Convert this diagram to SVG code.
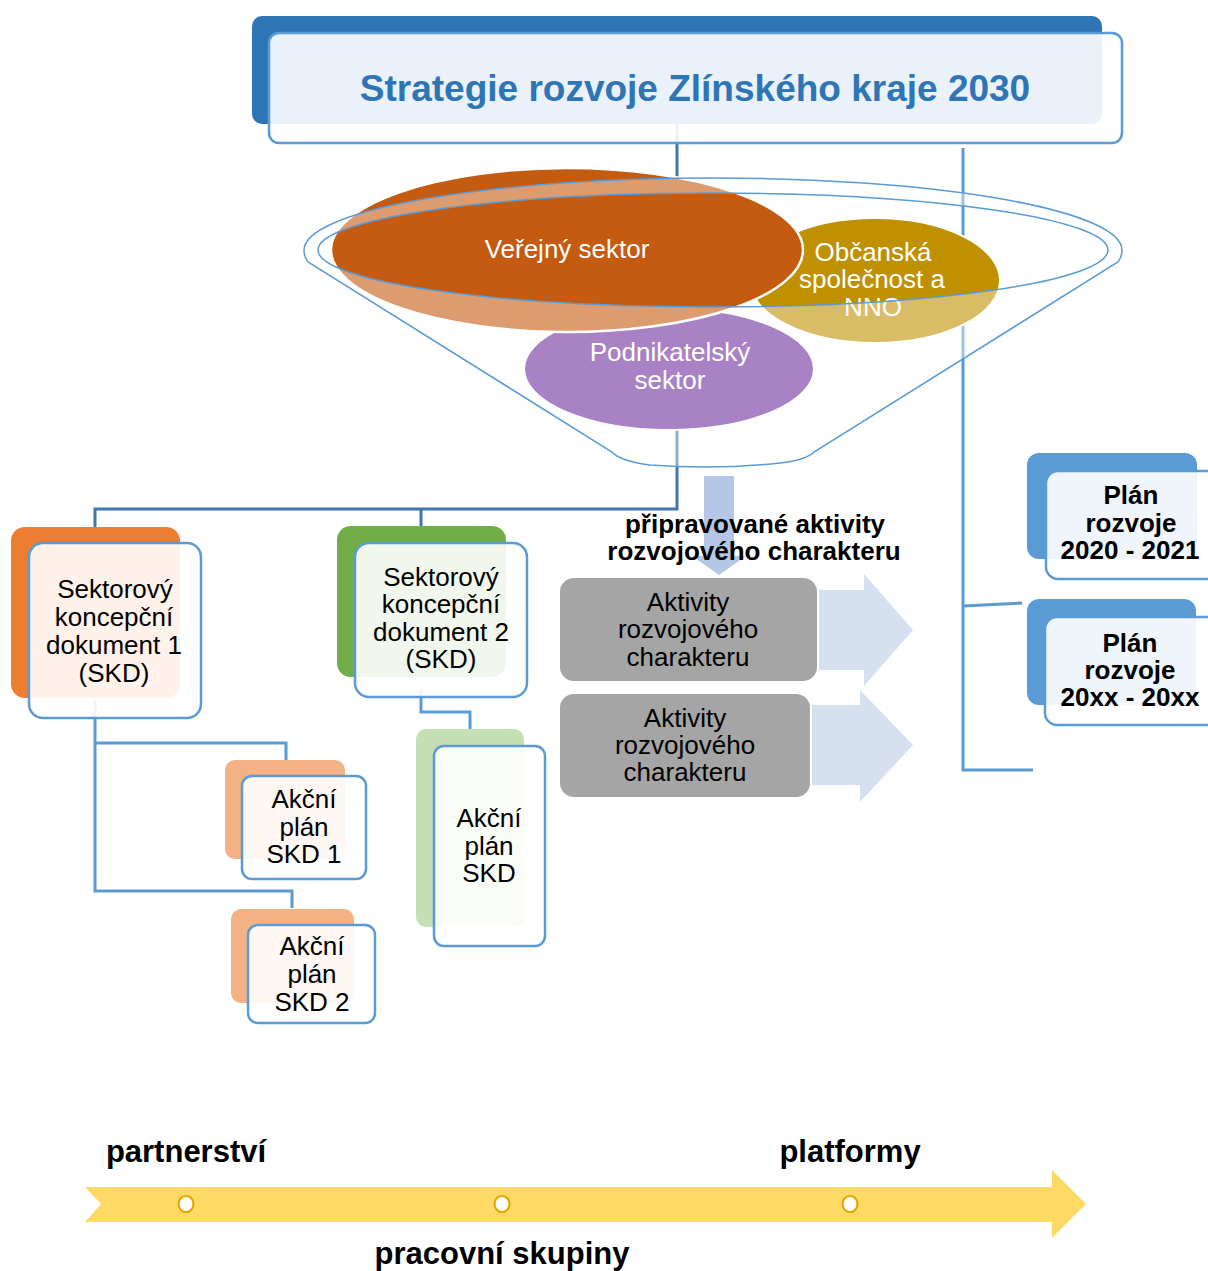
<svg xmlns="http://www.w3.org/2000/svg" width="1208" height="1271" viewBox="0 0 1208 1271">
<style>
text{font-family:"Liberation Sans",Arial,sans-serif;text-anchor:middle}
.t{font-size:26px;fill:#000}
.tb{font-size:26px;font-weight:bold;fill:#000}
.tw{font-size:26px;fill:#fff}
.front{fill:#fff;fill-opacity:0.9;stroke:#5B9BD5;stroke-width:2.5}
.trunk{fill:none;stroke:#3F77AE;stroke-width:3}
.sub{fill:none;stroke:#5B9BD5;stroke-width:3}
.gray{fill:#A5A5A5}
.rarr{fill:#D6E1F0}
.tl{font-size:31px;font-weight:bold;fill:#000}
.dot{fill:#fff;stroke:#E3A900;stroke-width:2.2}
</style>
<rect width="1208" height="1271" fill="#fff"/>

<g id="connectors">
  <path class="trunk" d="M677,124 V509 H95 V530 M421,509 V528"/>
  <path class="sub" d="M95,700 V891 H292 V908 M95,743 H286 V760"/>
  <path class="sub" d="M421,690 V712 H470 V730"/>
  <path class="sub" d="M963,148 V770 H1033 M963,606 L1022,603"/>
</g>

<g id="title">
  <rect x="252" y="16" width="850" height="108" rx="10" fill="#2E75B6"/>
  <rect class="front" x="269" y="33" width="853" height="110" rx="10"/>
  <text x="695" y="101" style="font-size:37px;font-weight:bold;fill:#2E75B6">Strategie rozvoje Zlínského kraje 2030</text>
</g>

<g id="sector-podnikatelsky">
  <ellipse cx="669" cy="369" rx="145" ry="61" fill="#7030A0" stroke="#fff" stroke-width="2"/>
  <text class="tw" x="670" y="361">Podnikatelský</text>
  <text class="tw" x="670" y="389">sektor</text>
</g>
<g id="sector-obcanska">
  <ellipse cx="875" cy="280.5" rx="125" ry="62.5" fill="#BF9000" stroke="#fff" stroke-width="2"/>
  <text class="tw" x="873" y="261">Občanská</text>
  <text class="tw" x="872" y="288">společnost a</text>
  <text class="tw" x="873" y="316">NNO</text>
</g>
<g id="sector-verejny">
  <ellipse cx="567" cy="250" rx="236" ry="82" fill="#C55A11" stroke="#fff" stroke-width="2.5"/>
  <text class="tw" x="567" y="258">Veřejný sektor</text>
</g>

<g id="funnel">
  <path fill="#fff" fill-opacity="0.4" fill-rule="evenodd" stroke="#5B9BD5" stroke-width="1.5"
    d="M304,250 A409,72 0 0 1 1122,250 Q1122,257 1118,262 L814,452 Q806,460 780,463 Q716,470 650,465 Q620,461 612,452 L308,262 Q304,257 304,250 Z
       M318,250 A395,57 0 1 0 1108,250 A395,57 0 1 0 318,250 Z"/>
</g>

<g id="skd1">
  <rect x="11" y="527" width="169" height="171" rx="14" fill="#ED7D31"/>
  <rect class="front" x="29" y="543" width="172" height="175" rx="14"/>
  <text class="t" x="115" y="598">Sektorový</text>
  <text class="t" x="114" y="626">koncepční</text>
  <text class="t" x="114" y="654">dokument 1</text>
  <text class="t" x="114" y="682">(SKD)</text>
</g>
<g id="skd2">
  <rect x="337" y="526" width="169" height="151" rx="14" fill="#70AD47"/>
  <rect class="front" x="355" y="543" width="172" height="154" rx="14"/>
  <text class="t" x="441" y="586">Sektorový</text>
  <text class="t" x="441" y="613">koncepční</text>
  <text class="t" x="441" y="641">dokument 2</text>
  <text class="t" x="441" y="668">(SKD)</text>
</g>
<g id="ap-skd1">
  <rect x="225" y="760" width="120" height="99" rx="10" fill="#F4B183"/>
  <rect class="front" x="242" y="776" width="124" height="103" rx="10"/>
  <text class="t" x="304" y="808">Akční</text>
  <text class="t" x="304" y="836">plán</text>
  <text class="t" x="304" y="863">SKD 1</text>
</g>
<g id="ap-skd2">
  <rect x="231" y="909" width="123" height="94" rx="10" fill="#F4B183"/>
  <rect class="front" x="248" y="925" width="127" height="98" rx="10"/>
  <text class="t" x="312" y="955">Akční</text>
  <text class="t" x="312" y="983">plán</text>
  <text class="t" x="312" y="1011">SKD 2</text>
</g>
<g id="ap-skd">
  <rect x="416" y="729" width="108" height="198" rx="10" fill="#C5E0B4"/>
  <rect class="front" x="434" y="746" width="111" height="200" rx="10"/>
  <text class="t" x="489" y="827">Akční</text>
  <text class="t" x="489" y="855">plán</text>
  <text class="t" x="489" y="882">SKD</text>
</g>

<g id="down-arrow">
  <path fill="#B4C7E7" d="M704,476 H734 V556 H746 L719,575 L692,556 H704 Z"/>
</g>
<g id="activities-label">
  <text class="tb" x="755" y="533">připravované aktivity</text>
  <text class="tb" x="754" y="560">rozvojového charakteru</text>
</g>

<g id="activity1">
  <path class="rarr" d="M819,590 H864 V574 L913,630 L864,686 V670 H819 Z"/>
  <rect class="gray" x="560" y="578" width="257" height="103" rx="14"/>
  <text class="t" x="688" y="611">Aktivity</text>
  <text class="t" x="688" y="638">rozvojového</text>
  <text class="t" x="688" y="666">charakteru</text>
</g>
<g id="activity2">
  <path class="rarr" d="M812,705 H860 V690 L913,745 L860,802 V785 H812 Z"/>
  <rect class="gray" x="560" y="694" width="250" height="103" rx="14"/>
  <text class="t" x="685" y="727">Aktivity</text>
  <text class="t" x="685" y="754">rozvojového</text>
  <text class="t" x="685" y="781">charakteru</text>
</g>

<g id="plan1">
  <rect x="1027" y="453" width="170" height="106" rx="12" fill="#5B9BD5"/>
  <rect class="front" x="1046" y="471" width="190" height="108" rx="12"/>
  <text class="tb" x="1131" y="504">Plán</text>
  <text class="tb" x="1131" y="532">rozvoje</text>
  <text class="tb" x="1130" y="559">2020 - 2021</text>
</g>
<g id="plan2">
  <rect x="1027" y="599" width="169" height="106" rx="12" fill="#5B9BD5"/>
  <rect class="front" x="1045" y="617" width="190" height="108" rx="12"/>
  <text class="tb" x="1130" y="652">Plán</text>
  <text class="tb" x="1130" y="679">rozvoje</text>
  <text class="tb" x="1130" y="706">20xx - 20xx</text>
</g>

<g id="timeline">
  <path fill="#FFD966" d="M85,1187 H1052 V1170 L1086,1204 L1052,1238 V1222 H85 L101,1204 Z"/>
  <ellipse class="dot" cx="186" cy="1204" rx="7.5" ry="8"/>
  <ellipse class="dot" cx="502" cy="1204" rx="7.5" ry="8"/>
  <ellipse class="dot" cx="850" cy="1204" rx="7.5" ry="8"/>
  <text class="tl" x="186" y="1162">partnerství</text>
  <text class="tl" x="850" y="1162">platformy</text>
  <text class="tl" x="502" y="1264">pracovní skupiny</text>
</g>
</svg>
